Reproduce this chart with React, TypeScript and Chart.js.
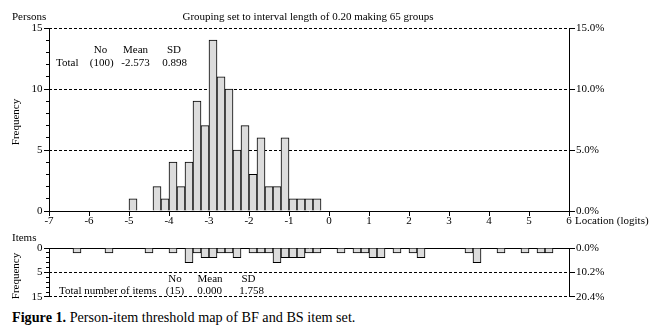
import React, { useEffect, useRef } from 'react';
import { Chart, registerables } from 'chart.js';

Chart.register(...registerables);

const FONT = '"Liberation Serif", "Times New Roman", serif';

// ---------- data ----------
const logitMin = -7;
const logitMax = 6;
const groupWidth = 0.2;
const groupCount = 65;

// lower edge (logits) of each non-empty person group, and its count
const personBins = [-5.0, -4.4, -4.2, -4.0, -3.8, -3.6, -3.4, -3.2, -3.0, -2.8, -2.6, -2.4, -2.2, -2.0, -1.8, -1.6, -1.4, -1.2, -1.0, -0.8, -0.6, -0.4];
const personCounts = [1, 2, 1, 4, 2, 4, 9, 7, 14, 11, 10, 5, 7, 3, 6, 2, 2, 6, 1, 1, 1, 1];

// lower edge (logits) of each non-empty item-threshold group, and its count
const itemBins = [-6.4, -5.6, -4.6, -4.0, -3.6, -3.4, -3.2, -3.0, -2.8, -2.6, -2.4, -2.0, -1.8, -1.6, -1.4, -1.2, -1.0, -0.8, -0.6, -0.4, 0.2, 0.6, 0.8, 1.0, 1.2, 1.6, 2.0, 2.2, 3.4, 3.6, 4.2, 4.8, 5.2, 5.4];
const itemCounts = [1, 1, 1, 1, 3, 1, 2, 2, 1, 1, 2, 1, 1, 1, 3, 2, 2, 2, 1, 1, 1, 1, 1, 2, 2, 1, 1, 2, 1, 3, 1, 1, 1, 1];

const personYMax = 15;
const itemYMax = 10;
const itemYTickLabels = ['0', '5', '15'];

const personNo = 100;
const personMean = -2.573;
const personSD = 0.898;
const itemNo = 15;
const itemMean = 0.0;
const itemSD = 1.758;

const itemTotal = itemCounts.reduce((a, b) => a + b, 0);

const topTitle = `Grouping set to interval length of ${groupWidth.toFixed(2)} making ${groupCount} groups`;

// ---------- helpers ----------
const scaleFont = { family: FONT, size: 11 };

const noTicksColor = (ctx: any) => (ctx.tick && ctx.tick.value === 0 ? 'rgba(0,0,0,0)' : '#000');

const topTextPlugin = {
  id: 'topText',
  afterDraw(chart: any) {
    const { ctx } = chart;
    ctx.save();
    ctx.fillStyle = '#000';
    ctx.font = `11px ${FONT}`;
    ctx.textBaseline = 'middle';
    ctx.textAlign = 'left';
    ctx.fillText('Persons', 12, 17);
    ctx.textAlign = 'center';
    ctx.fillText(topTitle, 308, 17);
    // stats
    ctx.fillText('No', 100.5, 50);
    ctx.fillText('Mean', 135.5, 50);
    ctx.fillText('SD', 174, 50);
    ctx.textAlign = 'left';
    ctx.fillText('Total', 56, 63);
    ctx.textAlign = 'center';
    ctx.fillText(`(${personNo})`, 101.7, 63);
    ctx.fillText(personMean.toFixed(3), 135.5, 63);
    ctx.fillText(personSD.toFixed(3), 174.7, 63);
    ctx.textAlign = 'left';
    ctx.fillText('Location (logits)', 575, 221);
    ctx.translate(16, 122);
    ctx.rotate(-Math.PI / 2);
    ctx.textAlign = 'center';
    ctx.fillText('Frequency', 0, 0);
    ctx.restore();
  },
};

const bottomTextPlugin = {
  id: 'bottomText',
  afterDraw(chart: any) {
    const { ctx } = chart;
    ctx.save();
    ctx.fillStyle = '#000';
    ctx.font = `11px ${FONT}`;
    ctx.textBaseline = 'middle';
    ctx.textAlign = 'left';
    ctx.fillText('Items', 12, 6);
    ctx.textAlign = 'center';
    ctx.fillText('No', 175, 47);
    ctx.fillText('Mean', 210, 47);
    ctx.fillText('SD', 248.5, 47);
    ctx.textAlign = 'left';
    ctx.fillText('Total number of items', 59, 58.7);
    ctx.textAlign = 'center';
    ctx.fillText(`(${itemNo})`, 175, 58.7);
    ctx.fillText(itemMean.toFixed(3), 209.5, 58.7);
    ctx.fillText(itemSD.toFixed(3), 251.5, 58.7);
    ctx.translate(16, 44);
    ctx.rotate(-Math.PI / 2);
    ctx.fillText('Frequency', 0, 0);
    ctx.restore();
  },
};

function barDataset(bins: number[], counts: number[]) {
  return {
    data: bins.map((b, i) => ({ x: b + groupWidth / 2, y: counts[i] })),
    backgroundColor: '#dcdcdc',
    borderColor: '#000',
    borderWidth: 1,
    barPercentage: 1,
    categoryPercentage: 1,
    xAxisID: 'x',
    yAxisID: 'y',
  };
}

function topConfig(): any {
  return {
    type: 'bar',
    data: { datasets: [barDataset(personBins, personCounts)] },
    options: {
      responsive: false,
      animation: false,
      devicePixelRatio: 1,
      events: [],
      layout: { padding: { top: 28, left: 0, right: 0, bottom: 0 } },
      plugins: { legend: { display: false }, tooltip: { enabled: false } },
      scales: {
        x: {
          type: 'linear',
          position: 'bottom',
          min: logitMin,
          max: logitMax,
          offset: false,
          ticks: { stepSize: 1, autoSkip: false, maxRotation: 0, font: scaleFont, color: '#000', padding: -1 },
          grid: { offset: false, drawOnChartArea: false, tickLength: 5, color: '#000', tickColor: '#000' },
          border: { color: '#000', width: 1 },
          afterFit: (s: any) => { s.height = 21; },
        },
        y: {
          position: 'left',
          min: 0,
          max: personYMax,
          weight: 1,
          ticks: { stepSize: 5, font: scaleFont, color: '#000', padding: 1.5 },
          grid: { drawOnChartArea: false, tickLength: 5, color: '#000' },
          border: { color: '#000', width: 1 },
          afterFit: (s: any) => { s.width = 49; },
        },
        yMinor: {
          position: 'left',
          min: 0,
          max: personYMax,
          weight: 0,
          ticks: { stepSize: 1, display: false },
          grid: { drawOnChartArea: false, tickLength: 3, color: '#000' },
          border: { display: false },
          afterFit: (s: any) => { s.width = 0; },
        },
        y2: {
          position: 'right',
          min: 0,
          max: personYMax,
          ticks: {
            stepSize: 5,
            font: scaleFont,
            color: '#000',
            padding: 1,
            callback: (v: number) => ((v / personNo) * 100).toFixed(1) + '%',
          },
          grid: { drawOnChartArea: true, tickLength: 6, color: noTicksColor, tickColor: '#000' },
          border: { color: '#000', width: 1, dash: [3, 2] },
          afterFit: (s: any) => { s.width = 87; },
        },
      },
    },
    plugins: [topTextPlugin],
  };
}

function bottomConfig(): any {
  return {
    type: 'bar',
    data: { datasets: [barDataset(itemBins, itemCounts)] },
    options: {
      responsive: false,
      animation: false,
      devicePixelRatio: 1,
      events: [],
      layout: { padding: { top: 16, left: 0, right: 0, bottom: 7 } },
      plugins: { legend: { display: false }, tooltip: { enabled: false } },
      scales: {
        x: {
          type: 'linear',
          position: 'top',
          min: logitMin,
          max: logitMax,
          offset: false,
          ticks: { stepSize: 1, display: false },
          grid: { offset: false, drawOnChartArea: false, drawTicks: false },
          border: { color: '#000', width: 1 },
          afterFit: (s: any) => { s.height = 0; },
        },
        y: {
          position: 'left',
          min: 0,
          max: itemYMax,
          reverse: true,
          weight: 1,
          ticks: {
            stepSize: 5,
            font: scaleFont,
            color: '#000',
            padding: 1.5,
            callback: (v: number) => itemYTickLabels[Math.round(v / 5)],
          },
          grid: { drawOnChartArea: false, tickLength: 5, color: '#000' },
          border: { color: '#000', width: 1 },
          afterFit: (s: any) => { s.width = 49; },
        },
        yMinor: {
          position: 'left',
          min: 0,
          max: itemYMax,
          reverse: true,
          weight: 0,
          ticks: { stepSize: 1, display: false },
          grid: { drawOnChartArea: false, tickLength: 3, color: '#000' },
          border: { display: false },
          afterFit: (s: any) => { s.width = 0; },
        },
        y2: {
          position: 'right',
          min: 0,
          max: itemYMax,
          reverse: true,
          ticks: {
            stepSize: 5,
            font: scaleFont,
            color: '#000',
            padding: 1,
            callback: (v: number) => ((v / itemTotal) * 100).toFixed(1) + '%',
          },
          grid: { drawOnChartArea: true, tickLength: 6, color: noTicksColor, tickColor: '#000' },
          border: { color: '#000', width: 1, dash: [3, 2] },
          afterFit: (s: any) => { s.width = 87; },
        },
      },
    },
    plugins: [bottomTextPlugin],
  };
}

export default function App() {
  const topRef = useRef<HTMLCanvasElement>(null);
  const botRef = useRef<HTMLCanvasElement>(null);

  useEffect(() => {
    const c1 = new Chart(topRef.current as HTMLCanvasElement, topConfig());
    const c2 = new Chart(botRef.current as HTMLCanvasElement, bottomConfig());
    return () => {
      c1.destroy();
      c2.destroy();
    };
  }, []);

  return (
    <div style={{ position: 'absolute', left: 0, top: 0, width: 656, height: 333, background: '#fff', overflow: 'hidden' }}>
      <canvas ref={topRef} width={656} height={232} style={{ position: 'absolute', left: 0, top: 0, width: 656, height: 232 }} />
      <canvas ref={botRef} width={656} height={73} style={{ position: 'absolute', left: 0, top: 232, width: 656, height: 73 }} />
      <div style={{ position: 'absolute', left: 12, top: 309, font: `14.2px ${FONT}`, lineHeight: '16px', color: '#000', whiteSpace: 'nowrap' }}>
        <b>Figure 1.</b> Person-item threshold map of BF and BS item set.
      </div>
    </div>
  );
}
